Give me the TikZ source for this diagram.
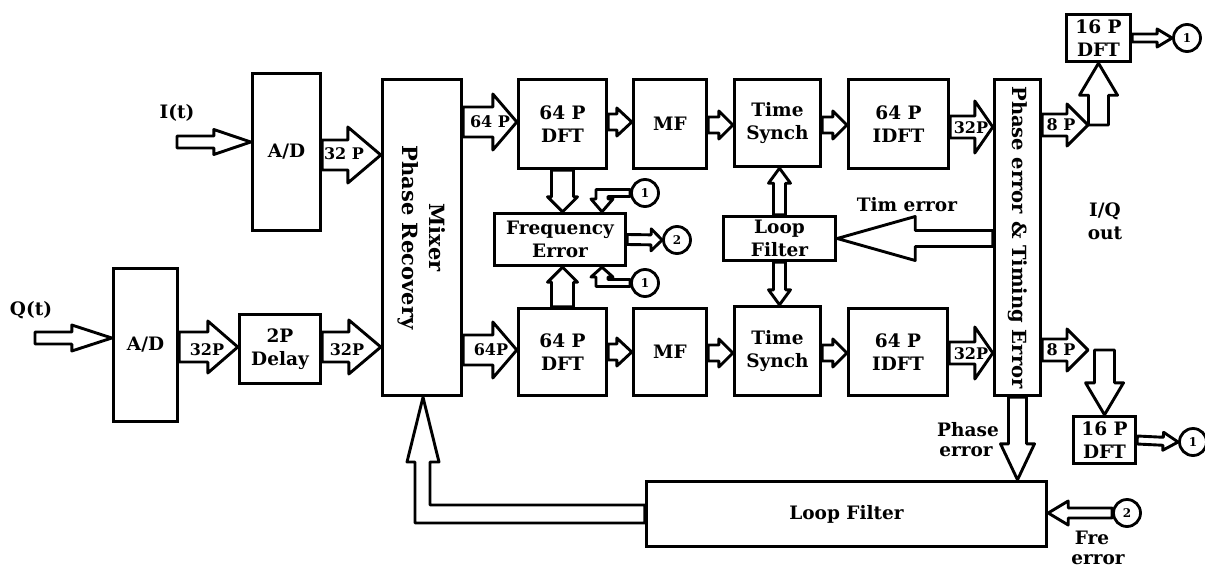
\documentclass[tikz,border=0pt]{standalone}
\usepackage{fontspec}
\setmainfont{DejaVu Serif}
\usetikzlibrary{calc,backgrounds}
\newcommand\blkarrow[6][]{%
  \path (#2) coordinate (bA) (#3) coordinate (bB);
  \path ($(bB)!#6!(bA)$) coordinate (bH);
  \draw[barrow,#1] ($(bA)!#4!90:(bB)$) -- ($(bH)!#4!90:(bB)$) -- ($(bH)!#5!90:(bB)$)
     -- (bB) -- ($(bH)!#5!-90:(bB)$) -- ($(bH)!#4!-90:(bB)$) -- ($(bA)!#4!-90:(bB)$) -- cycle;
}
\begin{document}
\begin{tikzpicture}[x=1pt,y=-1pt,
  box/.style={draw, line width=3.4pt, inner sep=1pt, align=center, font=\bfseries\fontsize{18.5}{23}\selectfont},
  barrow/.style={draw, line width=2.9pt, fill=white, line join=round},
  circ/.style={draw, circle, line width=2.8pt, minimum size=27pt, inner sep=0pt, font=\bfseries\fontsize{12}{13}\selectfont},
  lbl/.style={font=\bfseries\fontsize{18.5}{23}\selectfont, align=center, inner sep=0pt},
  albl/.style={font=\bfseries\fontsize{16}{17}\selectfont, inner sep=0pt},
]
\useasboundingbox (0,0) rectangle (1205,570);
% boxes
\node[box, minimum width=68, minimum height=157] (ad1) at (286.5,152) {A/D};
\node[box, minimum width=64, minimum height=153] (ad2) at (145.5,345) {A/D};
\node[box, minimum width=81, minimum height=69] (delay) at (280,349) {2P\\Delay};
\node[box, minimum width=79, minimum height=316] (mix) at (422,237.5) {};
\node[lbl, rotate=-90, font=\bfseries\fontsize{21}{27}\selectfont] at (mix) {Mixer\\Phase Recovery};
\node[box, minimum width=88, minimum height=89] (dft1) at (562.5,124) {64 P\\DFT};
\node[box, minimum width=73, minimum height=89] (mf1) at (670,124) {MF};
\node[box, minimum width=86, minimum height=87] (ts1) at (777.5,123) {Time\\Synch};
\node[box, minimum width=100, minimum height=89] (idft1) at (898.5,124) {64 P\\IDFT};
\node[box, minimum width=46, minimum height=316] (pe) at (1017.5,237.5) {};
\node[lbl, rotate=-90, font=\bfseries\fontsize{19.5}{23}\selectfont] at (pe) {Phase error \& Timing Error};
\node[box, minimum width=88, minimum height=87] (dft2) at (562.5,352) {64 P\\DFT};
\node[box, minimum width=73, minimum height=87] (mf2) at (670,352) {MF};
\node[box, minimum width=86, minimum height=89] (ts2) at (777.5,351) {Time\\Synch};
\node[box, minimum width=99, minimum height=87] (idft2) at (898,352) {64 P\\IDFT};
\node[box, minimum width=131, minimum height=52] (fe) at (560,239.5) {Frequency\\Error};
\node[box, minimum width=112, minimum height=44] (lf1) at (779.5,238.5) {Loop\\Filter};
\node[box, minimum width=400, minimum height=65] (lf2) at (846.5,514) {Loop Filter};
\node[box, minimum width=64, minimum height=47] (d16a) at (1098.5,38) {16 P\\DFT};
\node[box, minimum width=62, minimum height=47] (d16b) at (1104.5,440) {16 P\\DFT};
% circles
\node[circ] (ca1) at (1187,38) {1};
\node[circ] (cb1) at (1193,442) {1};
\node[circ] (cf1) at (645,193) {1};
\node[circ] (cf2) at (677,240) {2};
\node[circ] (cf3) at (645,283) {1};
\node[circ] (cl2) at (1127,513) {2};
% free ends
\coordinate (itin) at (177,142);
\coordinate (qin) at (35,338);
\coordinate (o8a) at (1088,125);
\coordinate (o8b) at (1088,350);
\begin{pgfonlayer}{background}
\blkarrow{itin}{ad1.west |- itin}{6pt}{12.5pt}{37pt}
\blkarrow{qin}{ad2.west |- qin}{6pt}{13pt}{40pt}
\blkarrow{ad1.east |- 0,155}{mix.west |- 0,155}{15pt}{28pt}{33pt}
\blkarrow{ad2.east |- 0,347}{delay.west |- 0,347}{15pt}{26pt}{30pt}
\blkarrow{delay.east |- 0,347}{mix.west |- 0,347}{15pt}{27pt}{32pt}
\blkarrow{mix.east |- 0,122}{dft1.west |- 0,122}{15pt}{28pt}{24pt}
\blkarrow{mix.east |- 0,350}{dft2.west |- 0,350}{15pt}{28pt}{24pt}
\blkarrow{dft1.east |- 0,122}{mf1.west |- 0,122}{8pt}{14pt}{15pt}
\blkarrow{dft2.east |- 0,352}{mf2.west |- 0,352}{8pt}{14pt}{15pt}
\blkarrow{mf1.east |- 0,125}{ts1.west |- 0,125}{8pt}{14pt}{14pt}
\blkarrow{ts1.east |- 0,125}{idft1.west |- 0,125}{8pt}{14pt}{14pt}
\blkarrow{mf2.east |- 0,353}{ts2.west |- 0,353}{8pt}{14pt}{14pt}
\blkarrow{ts2.east |- 0,353}{idft2.west |- 0,353}{8pt}{14pt}{14pt}
\blkarrow{idft1.east |- 0,127}{pe.west |- 0,127}{11pt}{26pt}{18pt}
\blkarrow{idft2.east |- 0,353}{pe.west |- 0,353}{11pt}{26pt}{18pt}
\blkarrow{pe.east |- o8a}{o8a}{11pt}{21pt}{21pt}
\blkarrow{pe.east |- o8b}{o8b}{11pt}{21pt}{21pt}
\blkarrow{d16a.south |- o8a}{d16a.south}{10pt}{19pt}{32pt}
\blkarrow{d16b.north |- o8b}{d16b.north}{10pt}{19pt}{32pt}
\blkarrow{d16a.east}{ca1.west}{4pt}{9pt}{15pt}
\blkarrow{d16b.east}{cb1.west}{4pt}{9pt}{15pt}
\blkarrow{pe.west |- lf1.east}{lf1.east}{8pt}{22pt}{78pt}
\blkarrow{dft1.south}{dft1.south |- fe.north}{11pt}{15pt}{15pt}
\blkarrow{dft2.north}{dft2.north |- fe.south}{11pt}{15pt}{15pt}
\blkarrow{lf1.north}{lf1.north |- ts1.south}{6pt}{11pt}{15pt}
\blkarrow{lf1.south}{lf1.south |- ts2.north}{6pt}{11pt}{15pt}
\blkarrow{pe.south}{pe.south |- lf2.north}{9pt}{17pt}{36pt}
\blkarrow{cl2.west}{lf2.east |- cl2.west}{5pt}{12pt}{20pt}
\blkarrow{fe.east}{cf2.west}{5pt}{11pt}{11pt}
% bent arrows
\draw[barrow] ($(cf1.west)+(0,-3.5)$) -- (596,189.5) -- (596,199) -- (591,199) -- (602,0 |- fe.north)
  -- (613,199) -- (608,199) -- (608,196.5) -- ($(cf1.west)+(0,3.5)$) -- cycle;
\draw[barrow] ($(cf3.west)+(0,3.5)$) -- (596,286.5) -- (596,277) -- (591,277) -- (602,0 |- fe.south)
  -- (613,277) -- (608,277) -- (608,279.5) -- ($(cf3.west)+(0,-3.5)$) -- cycle;
\draw[barrow] (lf2.west |- 0,505) -- (430,505) -- (430,462) -- (439,462) -- (423,0 |- mix.south)
  -- (407,462) -- (415,462) -- (415,523) -- (lf2.west |- 0,523) -- cycle;
\end{pgfonlayer}
% labels
\node[lbl] at (177,113) {I(t)};
\node[lbl] at (31,310) {Q(t)};
\node[albl] at (344,154) {32 P};
\node[albl] at (207,350) {32P};
\node[albl] at (347,350) {32P};
\node[albl] at (490,122) {64 P};
\node[albl] at (491,350) {64P};
\node[albl] at (971,128) {32P};
\node[albl] at (971,354) {32P};
\node[albl] at (1061,125) {8 P};
\node[albl] at (1061,350) {8 P};
\node[lbl] at (907,205) {Tim error};
\node[lbl] at (1105,211) {I/Q};
\node[lbl] at (1105,233) {out};
\node[lbl] at (968,430) {Phase};
\node[lbl] at (966,452) {error};
\node[lbl] at (1092,538) {Fre};
\node[lbl] at (1098,560) {error};
\end{tikzpicture}
\end{document}
